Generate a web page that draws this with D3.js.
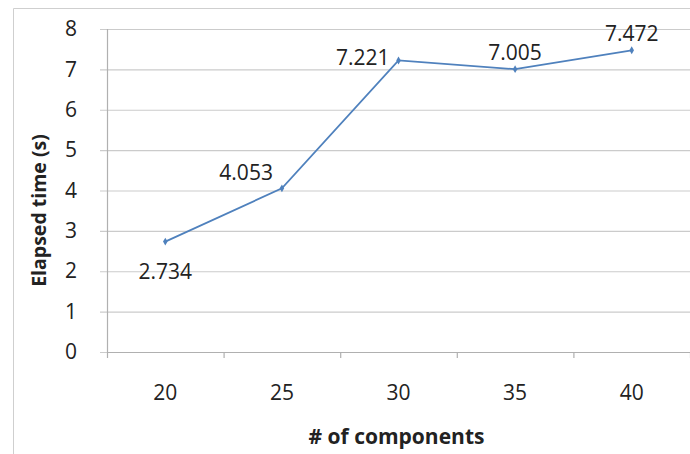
<!DOCTYPE html>
<html>
<head>
<meta charset="utf-8">
<script src="https://cdn.jsdelivr.net/npm/d3@7"></script>
<style>
  html, body { margin: 0; padding: 0; background: #fff; }
  svg { display: block; }
  text { font-family: "Open Sans", "DejaVu Sans", sans-serif; fill: #222; }
</style>
</head>
<body>
<svg id="chart" width="690" height="454"></svg>
<script>
// Elapsed time per number of components
const components = ["20", "25", "30", "35", "40"];
const elapsed = [2.734, 4.053, 7.221, 7.005, 7.472];
const yTicks = [0, 1, 2, 3, 4, 5, 6, 7, 8];
// where each value label sits relative to its point
const labelPos = ["below", "left", "left", "above", "above"];

const svg = d3.select("#chart");
const W = 690, H = 454;
const plot = { left: 107, right: 690, top: 29, bottom: 352 };

// outer chart frame
svg.append("line").attr("x1", 13.5).attr("x2", W).attr("y1", 8.5).attr("y2", 8.5)
  .attr("stroke", "#cfcfcf").attr("stroke-width", 1);
svg.append("line").attr("x1", 13.5).attr("x2", 13.5).attr("y1", 8.5).attr("y2", H)
  .attr("stroke", "#cfcfcf").attr("stroke-width", 1);

const x = d3.scaleBand().domain(components).range([plot.left, plot.right]);
const y = d3.scaleLinear().domain([0, 8]).range([plot.bottom, plot.top]);

// horizontal gridlines with short outer ticks
const yAxis = d3.axisLeft(y).tickValues(yTicks).tickFormat(d3.format("d"))
  .tickSize(-(plot.right - plot.left)).tickPadding(30);
const gy = svg.append("g").attr("transform", `translate(${plot.left},0)`).call(yAxis);
gy.select(".domain").remove();
gy.selectAll(".tick line").attr("x1", -7).attr("stroke", "#cbcbcb").attr("stroke-width", 1.2);
gy.selectAll(".tick text").style("font-size", "21px").attr("fill", "#222");

// vertical axis line
svg.append("line").attr("x1", plot.left + 0.5).attr("x2", plot.left + 0.5)
  .attr("y1", plot.top).attr("y2", plot.bottom + 6)
  .attr("stroke", "#b0b0b0").attr("stroke-width", 1.2);

// category axis: boundary ticks between bands
const xAxis = d3.axisBottom(x).tickSize(0).tickPadding(33);
const gx = svg.append("g").attr("transform", `translate(0,${plot.bottom})`).call(xAxis);
gx.select(".domain").attr("stroke", "#b0b0b0").attr("stroke-width", 1.2);
gx.selectAll(".tick text").style("font-size", "21px").attr("fill", "#222");
svg.append("g").selectAll("line")
  .data(components)
  .join("line")
  .attr("x1", d => x(d) + x.bandwidth() + 0.5)
  .attr("x2", d => x(d) + x.bandwidth() + 0.5)
  .attr("y1", plot.bottom).attr("y2", plot.bottom + 6)
  .attr("stroke", "#b0b0b0").attr("stroke-width", 1.2);

// axis titles
svg.append("text")
  .attr("transform", `translate(46,${(plot.top + plot.bottom) / 2 + 20}) rotate(-90)`)
  .attr("text-anchor", "middle")
  .style("font-size", "19.5px").style("font-weight", "bold")
  .text("Elapsed time (s)");
svg.append("text")
  .attr("x", (plot.left + plot.right) / 2 - 2).attr("y", 444)
  .attr("text-anchor", "middle")
  .style("font-size", "21px").style("font-weight", "bold")
  .text("# of components");

// series line
const cx = (d, i) => x(components[i]) + x.bandwidth() / 2;
const line = d3.line().x((d, i) => cx(d, i)).y(d => y(d));
svg.append("path").datum(elapsed)
  .attr("d", line).attr("fill", "none")
  .attr("stroke", "#4f81bd").attr("stroke-width", 1.8);

// diamond markers
svg.append("g").selectAll("path")
  .data(elapsed)
  .join("path")
  .attr("d", d3.symbol().type(d3.symbolDiamond).size(18))
  .attr("transform", (d, i) => `translate(${cx(d, i)},${y(d)})`)
  .attr("fill", "#4f81bd");

// value labels
svg.append("g").selectAll("text")
  .data(elapsed)
  .join("text")
  .attr("x", (d, i) => {
    const p = labelPos[i];
    return p === "left" ? cx(d, i) - 9 : cx(d, i);
  })
  .attr("y", (d, i) => {
    const p = labelPos[i];
    if (p === "below") return y(d) + 37;
    if (p === "left") return y(d) - (i === 1 ? 8 : -5);
    return y(d) - 9;
  })
  .attr("text-anchor", (d, i) => labelPos[i] === "left" ? "end" : "middle")
  .style("font-size", "21px")
  .text(d => d3.format(".3f")(d));
</script>
</body>
</html>
